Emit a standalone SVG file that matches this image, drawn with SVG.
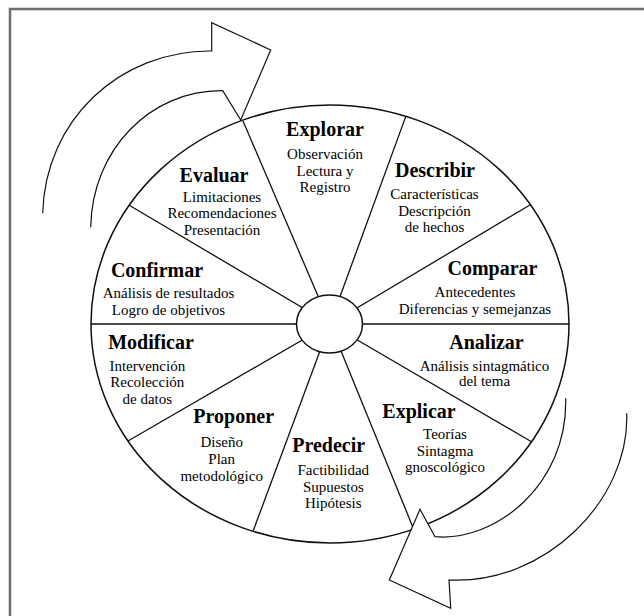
<svg xmlns="http://www.w3.org/2000/svg" width="644" height="616" viewBox="0 0 644 616">
<style>
.t{font-family:"Liberation Serif","Times New Roman",serif;font-weight:bold;font-size:20px;fill:#000;text-anchor:middle}
.s{font-family:"Liberation Serif","Times New Roman",serif;font-size:15px;fill:#000;text-anchor:middle}
.sp{stroke:#111;stroke-width:1.3;fill:none}
.ring{stroke:#111;stroke-width:1.5;fill:#fff}
.arr{stroke:#111;stroke-width:1.2;fill:#fff;stroke-linejoin:miter}
</style>
<rect width="644" height="616" fill="#fff"/>
<path id="frame" d="M10,616 V9 H644" fill="none" stroke="#6e6e6e" stroke-width="2.5"/>
<g id="wheel">
<ellipse class="ring" cx="330" cy="324" rx="239" ry="219"/>
<g id="spokes">
<line class="sp" x1="330" y1="324" x2="243" y2="121"/>
<line class="sp" x1="330" y1="324" x2="405.8" y2="116.4"/>
<line class="sp" x1="330" y1="324" x2="530.4" y2="204.7"/>
<line class="sp" x1="330" y1="324" x2="569" y2="324"/>
<line class="sp" x1="330" y1="324" x2="531.5" y2="441.7"/>
<line class="sp" x1="330" y1="324" x2="413.7" y2="529.2"/>
<line class="sp" x1="330" y1="324" x2="253" y2="531.4"/>
<line class="sp" x1="330" y1="324" x2="128" y2="441"/>
<line class="sp" x1="330" y1="324" x2="91" y2="324"/>
<line class="sp" x1="330" y1="324" x2="129.2" y2="205.3"/>
</g>
<ellipse id="hub" class="ring" cx="329.5" cy="324" rx="33" ry="29"/>
</g>
<g id="explorar">
<text class="t" x="325" y="136">Explorar</text>
<text class="s" x="325" y="159">Observación</text>
<text class="s" x="325" y="175.5">Lectura y</text>
<text class="s" x="325" y="192">Registro</text>
</g>
<g id="describir">
<text class="t" x="435" y="177">Describir</text>
<text class="s" x="434.5" y="199">Características</text>
<text class="s" x="434.5" y="215.5">Descripción</text>
<text class="s" x="434.5" y="232">de hechos</text>
</g>
<g id="comparar">
<text class="t" x="492.5" y="275">Comparar</text>
<text class="s" x="475" y="297">Antecedentes</text>
<text class="s" x="475" y="313.5">Diferencias y semejanzas</text>
</g>
<g id="analizar">
<text class="t" x="486.5" y="348.5">Analizar</text>
<text class="s" x="484.5" y="370.5">Análisis sintagmático</text>
<text class="s" x="484.5" y="386">del tema</text>
</g>
<g id="explicar">
<text class="t" x="419" y="417.5">Explicar</text>
<text class="s" x="445" y="439">Teorías</text>
<text class="s" x="445" y="455.5">Sintagma</text>
<text class="s" x="445" y="472">gnoscológico</text>
</g>
<g id="predecir">
<text class="t" x="328.7" y="452">Predecir</text>
<text class="s" x="333.3" y="475.3">Factibilidad</text>
<text class="s" x="333.3" y="492">Supuestos</text>
<text class="s" x="333.3" y="508.3">Hipótesis</text>
</g>
<g id="proponer">
<text class="t" x="233.7" y="422.5">Proponer</text>
<text class="s" x="221.7" y="447">Diseño</text>
<text class="s" x="221.7" y="463.7">Plan</text>
<text class="s" x="221.7" y="480.5">metodológico</text>
</g>
<g id="modificar">
<text class="t" x="151" y="348.7">Modificar</text>
<text class="s" x="147.3" y="370.7">Intervención</text>
<text class="s" x="147.3" y="387.3">Recolección</text>
<text class="s" x="147.3" y="403.7">de datos</text>
</g>
<g id="confirmar">
<text class="t" x="157" y="277.3">Confirmar</text>
<text class="s" x="168.5" y="298.3">Análisis de resultados</text>
<text class="s" x="168.5" y="314.7">Logro de objetivos</text>
</g>
<g id="evaluar">
<text class="t" x="214" y="181.5">Evaluar</text>
<text class="s" x="222" y="201.7">Limitaciones</text>
<text class="s" x="222" y="218.3">Recomendaciones</text>
<text class="s" x="222" y="234.5">Presentación</text>
</g>
<g id="connectors">
<path id="arrow-top" class="arr" d="M42.7,213.3 C45,120 120,50 211.7,51 L211.7,22.7 L270.7,50 L240.7,120 L222.7,90.7 C150,90 92,150 90.7,227.3"/>
<path id="arrow-bottom" class="arr" d="M565.7,398.3 C568,485 495,542 435,536.7 L420,509.3 L389.3,580 L450.7,608.3 L449,580 C545,585 630,500 626.7,413.3"/>
</g>
</svg>
